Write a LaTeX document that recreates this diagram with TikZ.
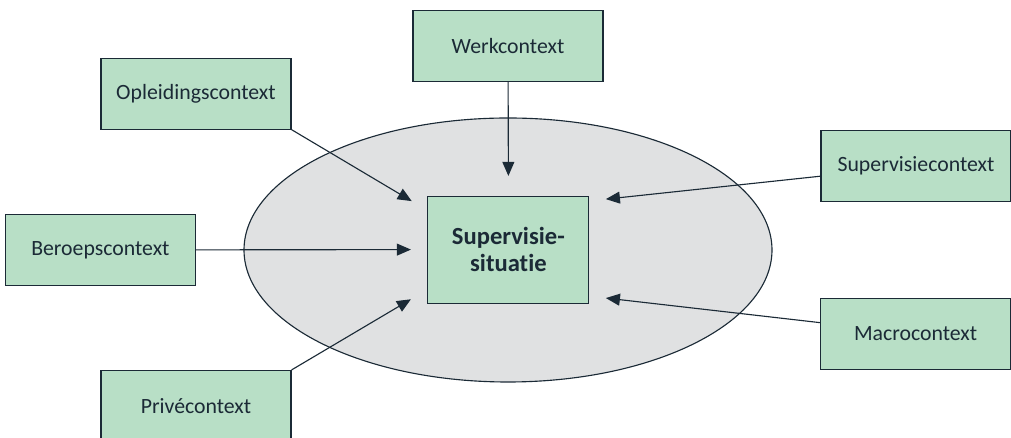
\documentclass[tikz,border=0pt]{standalone}
\usepackage{fontspec}
\setmainfont{Carlito}[Ligatures=NoCommon]
\usetikzlibrary{arrows.meta}

\definecolor{boxgreen}{HTML}{B8DFC6}
\definecolor{ovalgrey}{HTML}{E0E1E2}
\definecolor{inkblue}{HTML}{1B2A36}

\tikzset{
	ctxbox/.style={draw=inkblue, fill=boxgreen, line width=0.8pt, minimum width=4.75cm, minimum height=1.775cm, text=inkblue, font=\fontsize{15.5}{18}\selectfont},
	ctxarrow/.style={draw=inkblue, line width=0.8pt, -{Triangle[length=10pt, width=8.5pt]}}
}

\begin{document}
\begin{tikzpicture}
		% Paths, nodes and wires:
		\useasboundingbox (0, 0) rectangle (25.275, 10.95);
		\draw[inkblue, fill=ovalgrey, line width=0.8pt] (12.70, 4.70) ellipse (6.6cm and 3.3cm);
		\node[ctxbox, minimum width=4.025cm, minimum height=2.675cm, align=center, font=\fontsize{17.5}{19.5}\selectfont\bfseries] (situatie) at (12.71, 4.71){Supervisie-\\situatie};
		\node[ctxbox] (werk) at (12.70, 9.81){Werkcontext};
		\node[ctxbox] (opleiding) at (4.90, 8.61){Opleidingscontext};
		\node[ctxbox] (beroep) at (2.51, 4.70){Beroepscontext};
		\node[ctxbox] (prive) at (4.90, 0.80){Privécontext};
		\node[ctxbox] (supervisie) at (22.90, 6.80){Supervisiecontext};
		\node[ctxbox] (macro) at (22.89, 2.61){Macrocontext};
		\draw[ctxarrow] (werk) -- ([yshift=0.49cm]situatie.north);
		\draw[ctxarrow] (opleiding.south east) -- ([shift={(-0.39, -0.14)}]situatie.north west);
		\draw[ctxarrow] (beroep) -- ([xshift=-0.41cm]situatie.west);
		\draw[ctxarrow] (prive.north east) -- ([shift={(-0.41, 0.11)}]situatie.south west);
		\draw[ctxarrow] (supervisie) -- ([shift={(0.41, -0.09)}]situatie.north east);
		\draw[ctxarrow] (macro) -- ([shift={(0.41, 0.14)}]situatie.south east);
	\end{tikzpicture}
\end{document}
